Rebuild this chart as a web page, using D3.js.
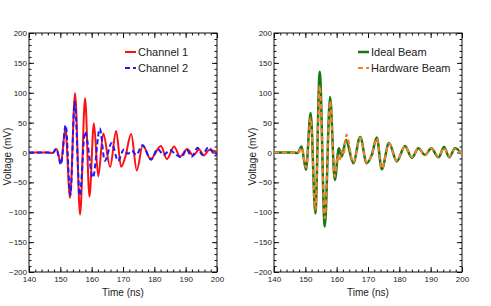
<!DOCTYPE html>
<html>
<head>
<meta charset="utf-8">
<script src="https://cdn.jsdelivr.net/npm/d3@7"></script>
<style>
  body { margin: 0; background: #fff; }
  svg text { font-family: "Liberation Sans", Arial, sans-serif; fill: #222; }
</style>
</head>
<body>
<div id="chart"></div>
<script>
// axis ticks
let timeTicks = [140, 150, 160, 170, 180, 190, 200]
let voltTicks = [-200, -150, -100, -50, 0, 50, 100, 150, 200]

// left panel: channel waveforms (extrema)
let ch1Time = [140, 146, 147.5, 148.8, 150.2, 151.6, 153.1, 154.7, 156.3, 157.9, 159.3, 160.7, 162.1, 163.7, 165.9, 167.8, 169.4, 170.7, 172.6, 174.4, 176.3, 178.8, 182.1, 184.0, 186.3, 188.2, 190.5, 192.4, 194.3, 195.8, 197.5, 200]
let ch1Volt = [0, 0, -1, 6, -18, 40, -76, 99, -104, 91, -74, 49, -40, 32, -24, 36, -24, -8, 31, -30, 12, -11, 11, -11, 10, -7, 6, -5, 5, -5, 4, 1]
let ch2Time = [140, 146, 147.5, 148.7, 150.2, 151.7, 153.2, 154.6, 156.2, 157.9, 160.4, 162.6, 164.2, 166.4, 168.4, 170.3, 171.6, 172.8, 174.2, 176.2, 179.0, 181.0, 183.0, 185.0, 186.8, 188.7, 190.3, 191.9, 193.8, 195.3, 197.3, 199.5, 200]
let ch2Volt = [0, 0, -1, 6, -20, 46, -71, 85, -72, 35, -42, 40, -14, 16, -14, 5, -2, 3, -4, 12, -12, 6, -4, 4, -3, -8, 5, -7, 8, -4, 9, -5, -3]

// right panel: beams
let idealTime = [140, 146, 147.5, 148.8, 150.2, 151.7, 153.2, 154.6, 156.2, 157.9, 159.4, 160.7, 161.6, 163.0, 165.3, 167.5, 169.6, 171.2, 172.8, 174.4, 176.7, 179.2, 181.8, 184.0, 186.1, 188.2, 190.2, 192.5, 194.3, 195.9, 197.8, 200]
let idealVolt = [0, 0, -1, 10, -29, 66, -102, 135, -124, 93, -46, 7, -7, 21, -18, 26, -18, -4, 25, -28, 16, -15, 11, -9, 7, -4, 7, -8, 9, -8, 7, -3]
let hwTime = [140, 146, 147.5, 148.8, 150.2, 151.7, 153.2, 154.6, 156.2, 157.9, 159.4, 160.3, 160.9, 161.5, 162.2, 163.1, 165.3, 167.5, 169.6, 171.2, 172.8, 174.4, 176.7, 179.2, 181.8, 184.0, 186.1, 188.2, 190.2, 192.5, 194.3, 195.9, 197.8, 200]
let hwVolt = [0, 0, -1, 8, -25, 58, -96, 112, -110, 86, -40, -5, -15, 3, -4, 30, -17, 25, -17, -4, 24, -27, 15, -14, 11, -8, 7, -4, 7, -7, 8, -7, 6, -3]

let W = 491, H = 306
let frameW = 188, frameH = 239, frameTop = 33

let svg = d3.select("#chart").append("svg")
    .attr("width", W).attr("height", H)

let drawPanel = function(left, id, series) {
    let x = d3.scaleLinear().domain([140, 200]).range([0, frameW])
    let y = d3.scaleLinear().domain([-200, 200]).range([frameH, 0])
    let g = svg.append("g").attr("transform", "translate(" + left + "," + frameTop + ")")

    g.append("clipPath").attr("id", "clip" + id)
        .append("rect").attr("width", frameW).attr("height", frameH)

    let minorX = d3.range(140, 201, 2)
    let minorY = d3.range(-200, 201, 10)
    let axes = [
        [d3.axisBottom(x).tickValues(minorX).tickSize(-2.5).tickFormat(""), 0, frameH],
        [d3.axisTop(x).tickValues(minorX).tickSize(-2.5).tickFormat(""), 0, 0],
        [d3.axisLeft(y).tickValues(minorY).tickSize(-2.5).tickFormat(""), 0, 0],
        [d3.axisRight(y).tickValues(minorY).tickSize(-2.5).tickFormat(""), frameW, 0],
        [d3.axisBottom(x).tickValues(timeTicks).tickSize(-5).tickPadding(4), 0, frameH],
        [d3.axisTop(x).tickValues(timeTicks).tickSize(-5).tickFormat(""), 0, 0],
        [d3.axisLeft(y).tickValues(voltTicks).tickSize(-5).tickPadding(2), 0, 0],
        [d3.axisRight(y).tickValues(voltTicks).tickSize(-5).tickFormat(""), frameW, 0]
    ]
    axes.forEach(a => {
        let ax = g.append("g").attr("transform", "translate(" + a[1] + "," + a[2] + ")")
            .call(a[0].tickSizeOuter(0))
        ax.select(".domain").remove()
        ax.selectAll("line").attr("stroke", "#111")
        ax.selectAll("text").style("font-size", "8px").attr("fill", "#222")
            .style("font-family", "'Liberation Sans', Arial, sans-serif")
    })

    g.append("rect").attr("width", frameW).attr("height", frameH)
        .attr("fill", "none").attr("stroke", "#111").attr("stroke-width", 1)

    let line = d3.line().x(d => x(d[0])).y(d => y(d[1])).curve(d3.curveMonotoneX)
    series.forEach(s => {
        g.append("path")
            .datum(d3.zip(s.t, s.v))
            .attr("clip-path", "url(#clip" + id + ")")
            .attr("d", line)
            .attr("fill", "none")
            .attr("stroke", s.color)
            .attr("stroke-width", s.width)
            .attr("stroke-dasharray", s.dash)
            .attr("stroke-linejoin", "round")
    })

    // legend
    series.forEach((s, i) => {
        let ly = 19 + i * 16
        g.append("line")
            .attr("x1", s.lx).attr("x2", s.lx + 11)
            .attr("y1", ly).attr("y2", ly)
            .attr("stroke", s.color).attr("stroke-width", s.width)
            .attr("stroke-dasharray", s.dash)
        g.append("text").attr("x", s.lx + 13).attr("y", ly).attr("dy", "0.35em")
            .style("font-size", "11px").text(s.name)
    })

    g.append("text")
        .attr("transform", "translate(" + (-18) + "," + (frameH / 2 + 4) + ") rotate(-90)")
        .attr("text-anchor", "middle").style("font-size", "10px")
        .text("Voltage (mV)")
    g.append("text")
        .attr("x", frameW / 2).attr("y", frameH + 24)
        .attr("text-anchor", "middle").style("font-size", "10px")
        .text("Time (ns)")
}

drawPanel(29, "a", [
    {name: "Channel 1", t: ch1Time, v: ch1Volt, color: "#ff1010", width: 2, dash: null, lx: 96},
    {name: "Channel 2", t: ch2Time, v: ch2Volt, color: "#1a1aff", width: 2, dash: "5,3", lx: 96}
])
drawPanel(274, "b", [
    {name: "Ideal Beam", t: idealTime, v: idealVolt, color: "#137a13", width: 2.5, dash: null, lx: 84},
    {name: "Hardware Beam", t: hwTime, v: hwVolt, color: "#ff7f2a", width: 2, dash: "5,3", lx: 84}
])
</script>
</body>
</html>
